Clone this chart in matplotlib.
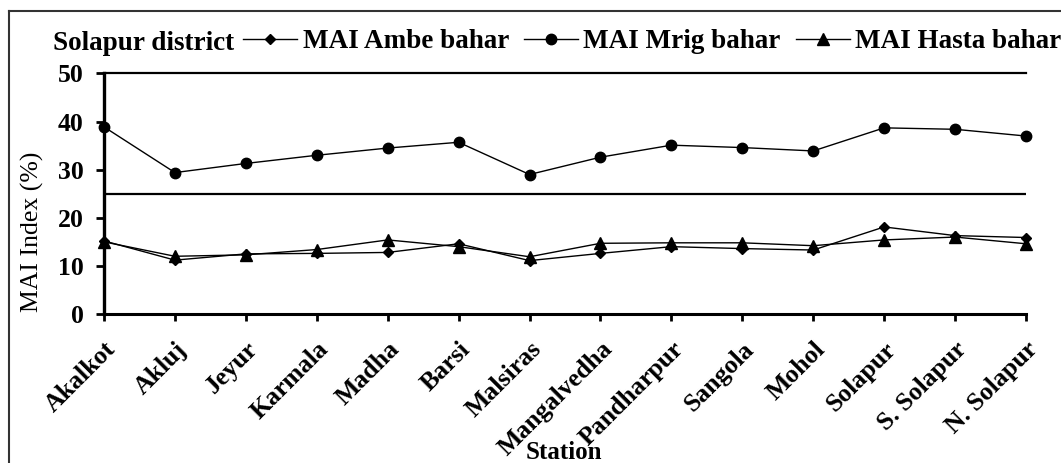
import numpy as np
import matplotlib
matplotlib.use("Agg")
import matplotlib.pyplot as plt
import matplotlib.transforms as mtransforms
from matplotlib.lines import Line2D

stations = ["Akalkot", "Akluj", "Jeyur", "Karmala", "Madha", "Barsi", "Malsiras",
            "Mangalvedha", "Pandharpur", "Sangola", "Mohol", "Solapur",
            "S. Solapur", "N. Solapur"]
ambe = [15.2, 11.2, 12.5, 12.6, 12.8, 14.6, 11.1, 12.6, 14.0, 13.6, 13.3, 18.1, 16.3, 15.9]
mrig = [38.9, 29.4, 31.3, 33.0, 34.5, 35.7, 29.0, 32.6, 35.1, 34.6, 33.9, 38.7, 38.4, 37.0]
hasta = [15.0, 12.0, 12.3, 13.4, 15.4, 14.0, 11.9, 14.7, 14.8, 14.8, 14.2, 15.4, 16.0, 14.6]

plt.rcParams["font.family"] = ["Liberation Serif", "DejaVu Serif"]

W, H = 1061, 463
fig = plt.figure(figsize=(W / 100, H / 100), dpi=100)
ax = fig.add_axes([104 / W, 1 - 314 / H, (1026 - 104) / W, (314 - 73.5) / H])

x = np.arange(len(stations))
l1, = ax.plot(x, ambe, color="black", lw=1.0, marker="D", ms=5.5, clip_on=False, zorder=3)
l2, = ax.plot(x, mrig, color="black", lw=1.0, marker="o", ms=7.5, clip_on=False, zorder=3)
l3, = ax.plot(x, hasta, color="black", lw=1.0, marker="^", ms=8, clip_on=False, zorder=3)

ax.axhline(25, color="black", lw=1.6, zorder=2)
ax.axhline(50, color="black", lw=1.6, zorder=2, clip_on=False)

ax.set_xlim(0, len(stations) - 1)
ax.set_ylim(0, 50)
ax.set_yticks([0, 10, 20, 30, 40, 50])
ax.set_xticks(x)
ax.set_xticklabels(stations, rotation=45, ha="right", va="top",
                   rotation_mode="anchor", fontsize=18.5, fontweight="bold")
for lab in ax.get_yticklabels():
    lab.set_fontsize(18.5)
    lab.set_fontweight("bold")

offset = mtransforms.ScaledTranslation(7 / 100, 0, fig.dpi_scale_trans)
for lab in ax.get_xticklabels():
    lab.set_transform(lab.get_transform() + offset)

ax.tick_params(axis="x", direction="out", length=5, width=2, pad=12)
ax.tick_params(axis="y", direction="out", length=5.5, width=2, pad=9)

for s in ["top", "right"]:
    ax.spines[s].set_visible(False)
ax.spines["left"].set_linewidth(2.4)
ax.spines["bottom"].set_linewidth(2.2)

ax.set_ylabel("MAI Index (%)", fontsize=18.5, va="center")
ax.yaxis.set_label_coords(32 / W, 0.5, transform=fig.transFigure)
fig.text(564 / W, 1 - 459 / H, "Station", fontsize=18, fontweight="bold",
         ha="center", va="baseline")

fig.text(53 / W, 1 - 50 / H, "Solapur district", fontsize=19.5, fontweight="bold",
         va="baseline")
fig.legend([l1, l2, l3], ["MAI Ambe bahar", "MAI Mrig bahar", "MAI Hasta bahar"],
           ncol=3, loc="center left", bbox_to_anchor=(243 / W, 1 - 42 / H),
           frameon=False, borderpad=0, borderaxespad=0, handlelength=2.0,
           handletextpad=0.2, columnspacing=0.55,
           prop={"size": 19.5, "weight": "bold"})

# frame around the figure (only top and left visible)
fig.add_artist(Line2D([9 / W, 9 / W], [0, 1 - 11 / H], color="#333333", lw=1.5,
                      transform=fig.transFigure))
fig.add_artist(Line2D([9 / W, 1], [1 - 11 / H, 1 - 11 / H], color="#333333", lw=1.5,
                      transform=fig.transFigure))

fig.savefig("out.png", dpi=100)
